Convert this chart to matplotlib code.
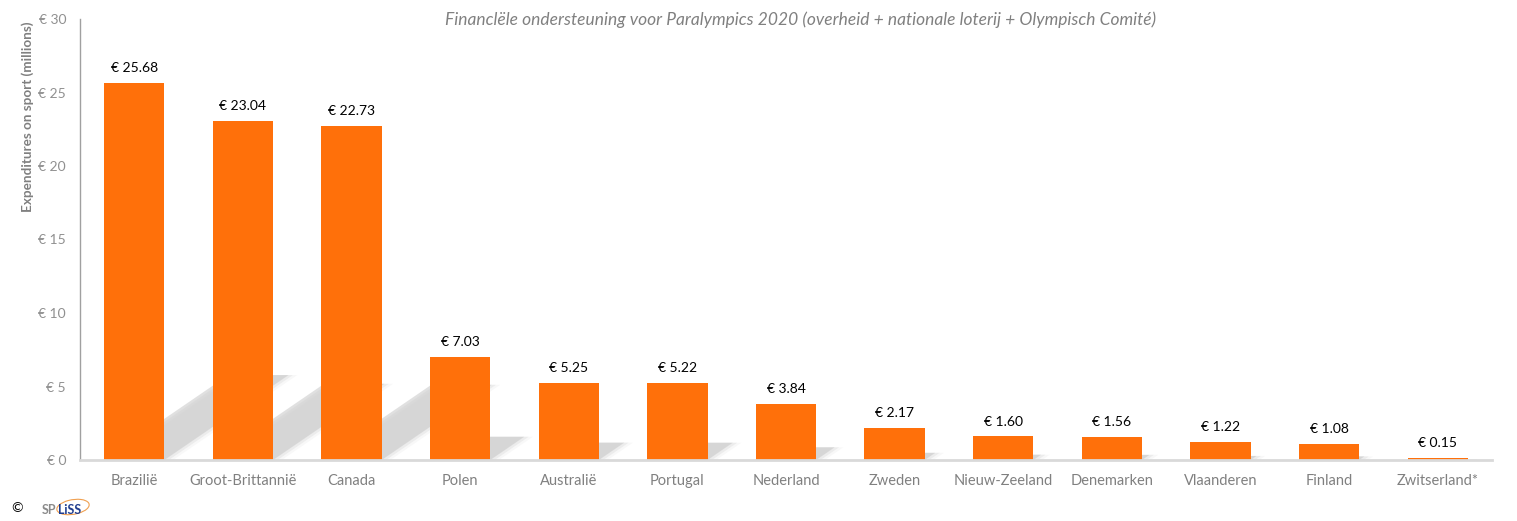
import numpy as np
import matplotlib
matplotlib.use("Agg")
import matplotlib.pyplot as plt
from matplotlib.patches import Polygon, Ellipse

# data
countries = ["Brazilië", "Groot-Brittannië", "Canada", "Polen", "Australië",
             "Portugal", "Nederland", "Zweden", "Nieuw-Zeeland", "Denemarken",
             "Vlaanderen", "Finland", "Zwitserland*"]
values = [25.68, 23.04, 22.73, 7.03, 5.25, 5.22, 3.84, 2.17, 1.60, 1.56,
          1.22, 1.08, 0.15]
yticks = [0, 5, 10, 15, 20, 25, 30]

title = "Financlële ondersteuning voor Paralympics 2020 (overheid + nationale loterij + Olympisch Comité)"
ylabel = "Expenditures on sport (millions)"

plt.rcParams['font.family'] = ['Lato', 'DejaVu Sans']

orange = '#ff700a'
grey_txt = '#808080'

fig = plt.figure(figsize=(15.17, 5.21), dpi=100)
ax = fig.add_axes([80 / 1517, 1 - 460 / 521, 1412 / 1517, 441 / 521])

x = np.arange(len(countries))
width = 0.555

# soft diagonal shadows behind the bars
for xi, v in zip(x, values):
    hs = 0.225 * v
    dx = 0.0445 * v
    x0, x1 = xi - width / 2, xi + width / 2
    for k, a in [(0.0, 0.55), (0.04, 0.25), (0.08, 0.12)]:
        poly = Polygon([(x0 + k, 0), (x1 + k, 0), (x1 + dx + k, hs), (x0 + dx + k, hs)],
                       closed=True, facecolor='#c8c8c8', edgecolor='none',
                       alpha=a, zorder=1)
        ax.add_patch(poly)

bars = ax.bar(x, values, width=width, color=orange, zorder=3)

for xi, v in zip(x, values):
    ax.text(xi, v + 0.6, "€ %.2f" % v, ha='center', va='bottom',
            fontsize=10, color='black', zorder=4)

ax.set_xlim(-0.5, len(countries) - 0.5)
ax.set_ylim(0, 30)
ax.set_yticks(yticks)
ax.set_yticklabels(["€ %d" % t for t in yticks])
ax.set_xticks(x)
ax.set_xticklabels(countries)
ax.tick_params(axis='both', length=0, colors=grey_txt)
ax.tick_params(axis='x', pad=10, labelsize=10.5)
ax.tick_params(axis='y', pad=10, labelsize=10, colors='#909090')

for s in ['top', 'right']:
    ax.spines[s].set_visible(False)
ax.spines['left'].set_color('#a0a0a0')
ax.spines['left'].set_linewidth(1.0)
ax.spines['bottom'].set_color('#d9d9d9')
ax.spines['bottom'].set_linewidth(2.0)
ax.spines['bottom'].set_zorder(5)

ax.set_ylabel(ylabel, color=grey_txt, fontsize=9.7, fontweight='bold')
ax.yaxis.set_label_coords(-0.0325, 0.778)

fig.text(801 / 1517, 1 - 20 / 521, title, ha='center', va='center',
         fontsize=12.5, style='italic', color=grey_txt)

# copyright + logo
fig.text(17 / 1517, 1 - 508 / 521, "©", ha='center', va='center', fontsize=10, color='black')
fig.text(42 / 1517, 1 - 510 / 521, "SP", ha='left', va='center', fontsize=9,
         fontweight='bold', color='#8a8a8a')
fig.text(58 / 1517, 1 - 510 / 521, "LiSS", ha='left', va='center', fontsize=9,
         fontweight='bold', color='#1f3d8f')
fig.patches.append(Ellipse((73 / 1517, 1 - 507 / 521), 30 / 1517, 16 / 521, angle=-20,
                           fill=False, edgecolor='#f0a050', linewidth=0.8,
                           transform=fig.transFigure, figure=fig))

fig.savefig("out.png", dpi=100, facecolor='white')
